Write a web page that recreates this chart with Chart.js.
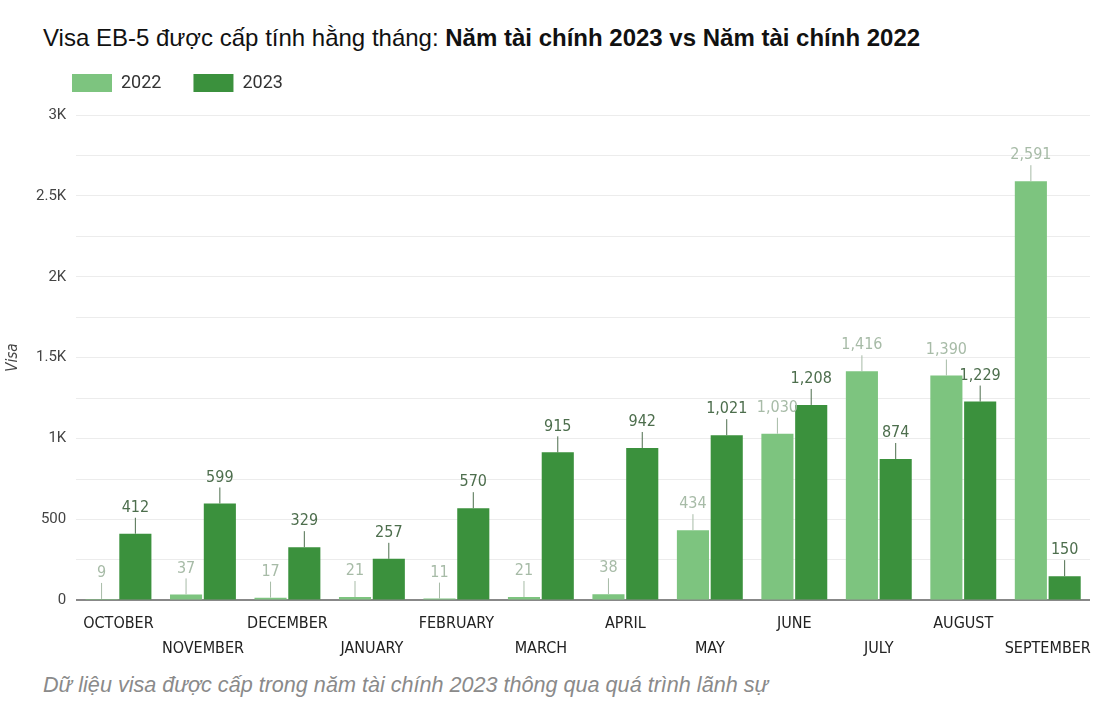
<!DOCTYPE html>
<html>
<head>
<meta charset="utf-8">
<script src="https://cdn.jsdelivr.net/npm/chart.js@4"></script>
<style>
    body { margin: 0; background: #fff; width: 1100px; height: 720px; overflow: hidden; position: relative; }
    #title { position: absolute; left: 43px; top: 24px; font: 24px "Liberation Sans", Arial, sans-serif; color: #111; white-space: nowrap; }
    #title b { font-weight: bold; }
    #caption { position: absolute; left: 43px; top: 672px; font: italic 21.6px "Liberation Sans", Arial, sans-serif; color: #8a8a8a; white-space: nowrap; }
    #wrap { position: absolute; left: 0; top: 0; width: 1100px; height: 664px; }
</style>
</head>
<body>
<div id="title">Visa EB-5 được cấp tính hằng tháng: <b>Năm tài chính 2023 vs Năm tài chính 2022</b></div>
<div id="wrap"><canvas id="chart"></canvas></div>
<div id="caption">Dữ liệu visa được cấp trong năm tài chính 2023 thông qua quá trình lãnh sự</div>

<script>
// Months of the fiscal year
const months = ['OCTOBER', 'NOVEMBER', 'DECEMBER', 'JANUARY', 'FEBRUARY', 'MARCH',
    'APRIL', 'MAY', 'JUNE', 'JULY', 'AUGUST', 'SEPTEMBER'];

// Visas issued per month
const visas2022 = [9, 37, 17, 21, 11, 21, 38, 434, 1030, 1416, 1390, 2591];
const visas2023 = [412, 599, 329, 257, 570, 915, 942, 1021, 1208, 874, 1229, 150];

// Y axis labels (every 500, gridlines every 250)
const yTickLabels = { 0: '0', 500: '500', 1000: '1K', 1500: '1.5K', 2000: '2K', 2500: '2.5K', 3000: '3K' };

const condensed = '"DejaVu Sans Condensed", "Roboto", sans-serif';

/**
 * Value labels above bars with small leader lines.
 * Drawn right after each dataset so the next series' bars may cover them.
 */
const barLabels = {
    id: 'barLabels',
    afterDatasetDraw(chart, args) {
        const ctx = chart.ctx;
        const ds = chart.data.datasets[args.index];
        const meta = args.meta;
        ctx.save();
        ctx.lineWidth = 1;
        ctx.font = '16px ' + condensed;
        ctx.textAlign = 'center';
        ctx.textBaseline = 'middle';
        ctx.strokeStyle = ds.labelColor;
        ctx.fillStyle = ds.labelColor;
        meta.data.forEach((bar, j) => {
            const top = bar.y;
            ctx.beginPath();
            ctx.moveTo(bar.x, top);
            ctx.lineTo(bar.x, top - 16);
            ctx.stroke();
            ctx.fillText(ds.data[j].toLocaleString('en-US'), bar.x, top - 26);
        });
        ctx.restore();
    }
};

/**
 * Legend spacing tweaks
 */
const legendTweak = {
    id: 'legendTweak',
    beforeInit(chart) {
        const fit = chart.legend.fit;
        chart.legend.fit = function() {
            fit.bind(chart.legend)();
            this.height += 13;
        };
    },
    afterLayout(chart) {
        chart.legend.left = 40;
    }
};

const ctx = document.getElementById('chart').getContext('2d');
new Chart(ctx, {
    type: 'bar',
    data: {
        labels: months,
        datasets: [{
            label: '2022',
            data: visas2022,
            backgroundColor: '#7dc47f',
            labelColor: '#a7bba7',
            barPercentage: 0.95,
            categoryPercentage: 0.8
        }, {
            label: '2023',
            data: visas2023,
            backgroundColor: '#3b913d',
            labelColor: '#4d6e4d',
            barPercentage: 0.95,
            categoryPercentage: 0.8
        }]
    },
    options: {
        responsive: true,
        maintainAspectRatio: false,
        animation: false,
        layout: { padding: { top: 42, right: 10, left: 0, bottom: 0 } },
        plugins: {
            title: { display: false },
            tooltip: { enabled: false },
            legend: {
                position: 'top',
                align: 'start',
                labels: {
                    boxWidth: 40,
                    boxHeight: 18,
                    padding: 32,
                    color: '#333',
                    font: { size: 18, family: 'Roboto, sans-serif' }
                }
            }
        },
        scales: {
            x: {
                grid: { display: false },
                border: { display: false },
                ticks: {
                    autoSkip: false,
                    maxRotation: 0,
                    padding: 3,
                    color: '#222',
                    font: { size: 16, family: condensed, lineHeight: 1.55 },
                    callback: function(value, index) {
                        const label = months[index];
                        return index % 2 === 0 ? [label] : ['', label];
                    }
                }
            },
            y: {
                min: 0,
                max: 3000,
                border: { display: false },
                grid: {
                    drawTicks: false,
                    color: (c) => c.tick && c.tick.value === 0 ? '#888' : '#ececec',
                    lineWidth: (c) => c.tick && c.tick.value === 0 ? 2 : 1
                },
                title: {
                    display: true,
                    text: 'Visa',
                    color: '#444',
                    font: { size: 15, style: 'italic', family: condensed }
                },
                ticks: {
                    stepSize: 250,
                    padding: 10,
                    color: '#444',
                    font: { size: 15, family: 'Roboto, sans-serif' },
                    callback: (value) => yTickLabels[value] !== undefined ? yTickLabels[value] : ''
                }
            }
        }
    },
    plugins: [barLabels, legendTweak]
});
</script>
</body>
</html>
